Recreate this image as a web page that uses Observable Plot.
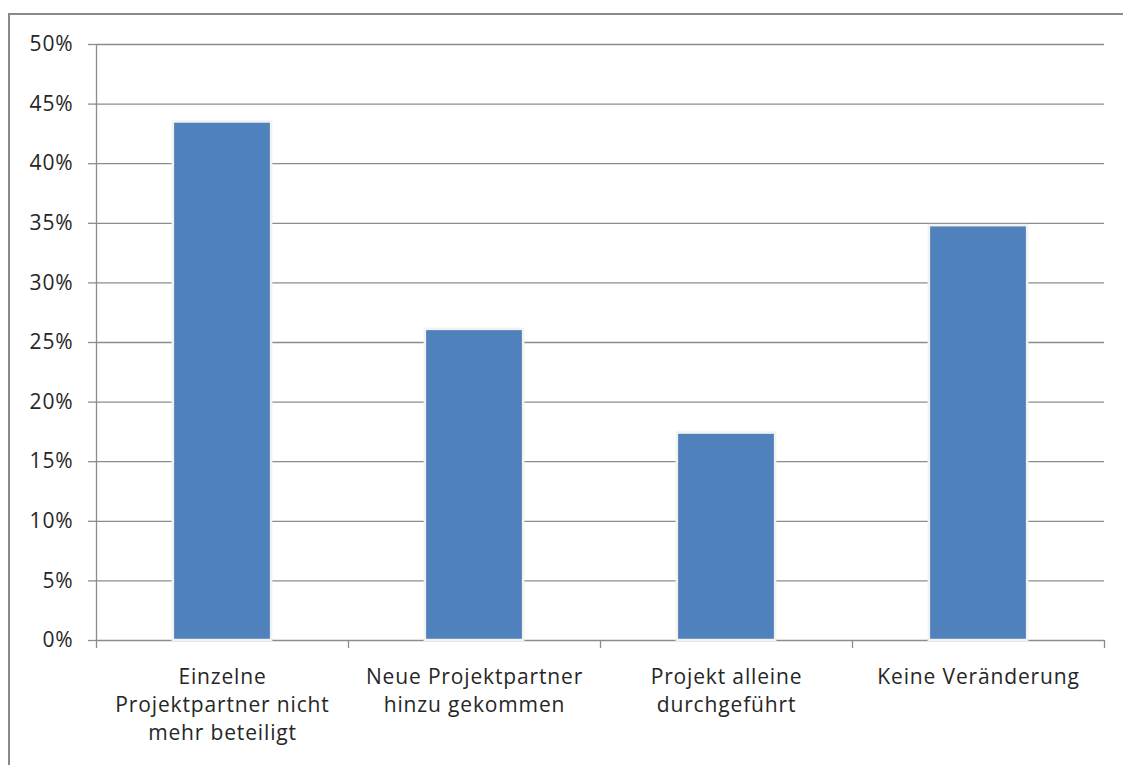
<!DOCTYPE html>
<html>
<head>
<meta charset="utf-8">
<script src="https://cdn.jsdelivr.net/npm/d3@7"></script>
<script src="https://cdn.jsdelivr.net/npm/@observablehq/plot@0.6"></script>
<style>
  html, body { margin: 0; padding: 0; background: #fff; }
  #wrap { position: relative; width: 1123px; height: 765px; overflow: hidden; }
  #frame { position: absolute; left: 8px; top: 13px; width: 1200px; height: 900px; border: 2px solid #8a8a8a; box-sizing: border-box; }
  #chart { position: absolute; left: 0; top: 0; }
</style>
</head>
<body>
<div id="wrap"><div id="frame"></div><div id="chart"></div></div>
<script>
const categories = [
  "Einzelne\nProjektpartner nicht\nmehr beteiligt",
  "Neue Projektpartner\nhinzu gekommen",
  "Projekt alleine\ndurchgeführt",
  "Keine Veränderung"
];
const values = [0.435, 0.261, 0.174, 0.348];
const yTicks = [0, 0.05, 0.10, 0.15, 0.20, 0.25, 0.30, 0.35, 0.40, 0.45, 0.50];

const data = categories.map((c, i) => ({ i, label: c, value: values[i] }));
const barHalf = 0.195;
const boundaries = d3.range(categories.length + 1);

const chart = Plot.plot({
  width: 1123,
  height: 765,
  marginLeft: 96,
  marginRight: 19,
  marginTop: 44,
  marginBottom: 125,
  style: { fontFamily: "'Open Sans', sans-serif", fontSize: "21px", letterSpacing: "0.85px", color: "#262626", background: "transparent", overflow: "visible" },
  x: { type: "linear", domain: [0, categories.length], axis: null },
  y: { domain: [0, 0.5], axis: null },
  marks: [
    Plot.ruleY(yTicks, { x1: 0, x2: categories.length, stroke: "#8c8c8c", strokeWidth: 1.3, strokeOpacity: 1 }),
    Plot.axisY({ ticks: yTicks, tickFormat: d3.format(".0%"), tickSize: 8, tickPadding: 15, stroke: "#8c8c8c", strokeWidth: 1.3, strokeOpacity: 1, label: null, fontSize: 21 }),
    Plot.ruleX([0], { stroke: "#8c8c8c", strokeWidth: 1.3 }),
    Plot.axisX({ ticks: boundaries, tickFormat: () => "", tickSize: 8, stroke: "#8c8c8c", strokeWidth: 1.3, strokeOpacity: 1, label: null }),
    Plot.rectY(data, { x1: d => d.i + 0.5 - barHalf, x2: d => d.i + 0.5 + barHalf, y: "value", fill: "#4f81bd", stroke: "#f2f2f2", strokeWidth: 2.5 }),
    Plot.text(data, { x: d => d.i + 0.5, y: 0, text: "label", lineAnchor: "top", dy: 24, lineHeight: 1.33, fontSize: 21, fill: "#262626" })
  ]
});
document.getElementById("chart").appendChild(chart);
</script>
</body>
</html>
